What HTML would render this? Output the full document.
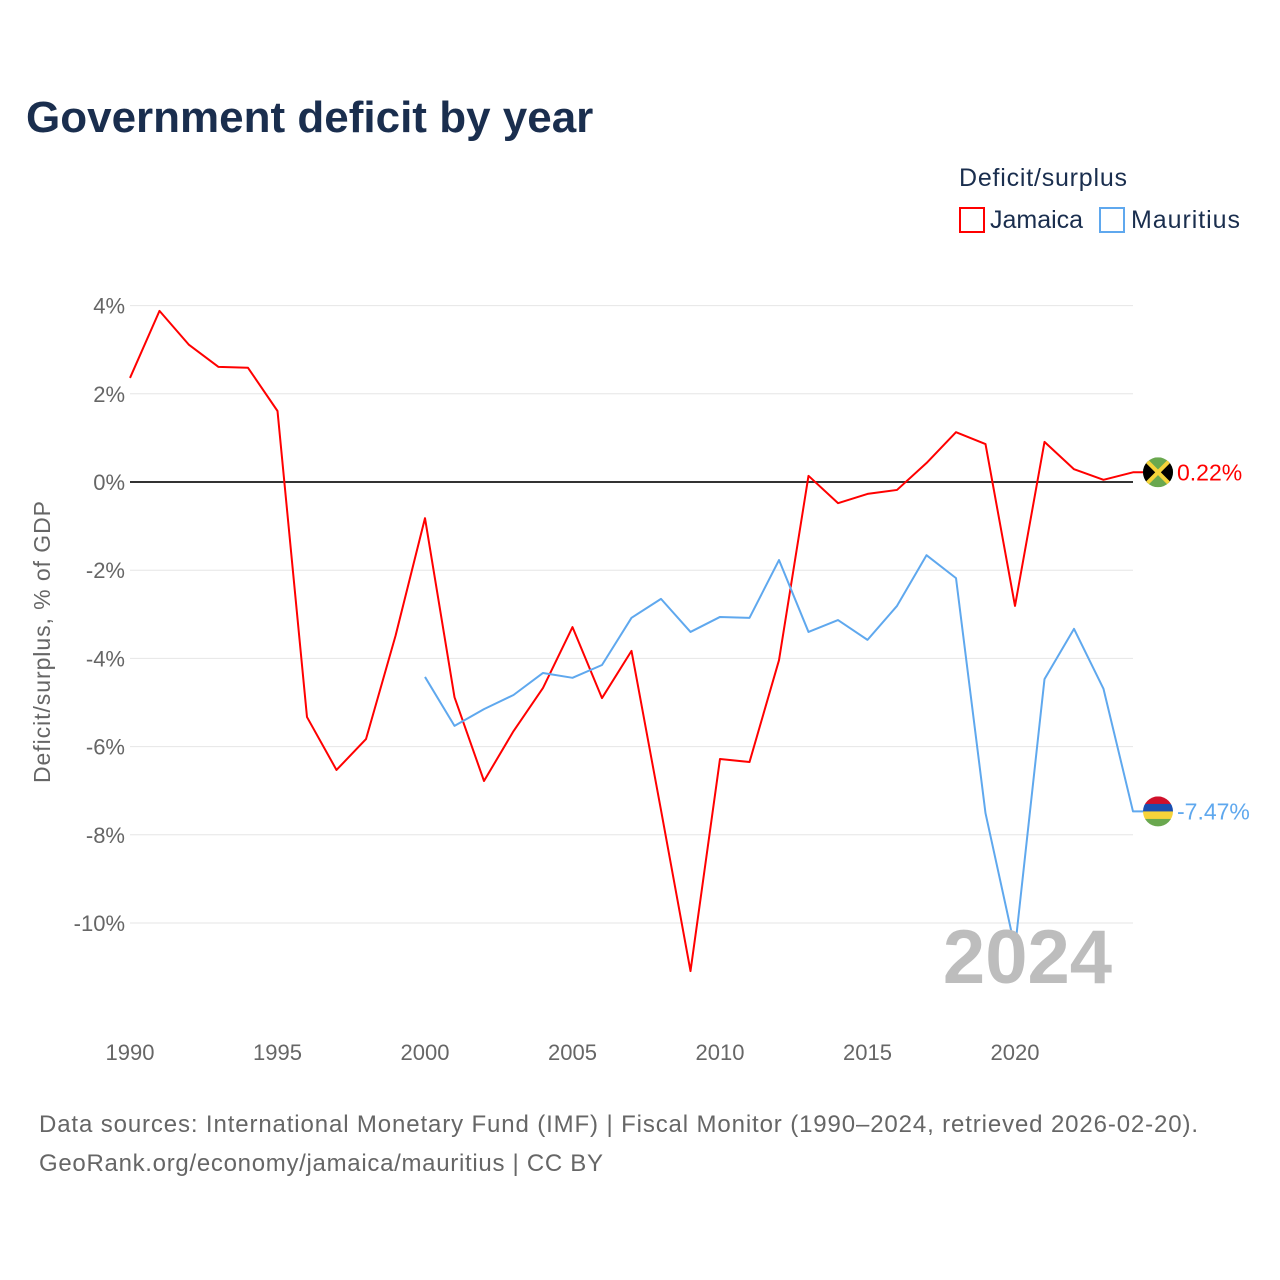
<!DOCTYPE html>
<html><head><meta charset="utf-8"><style>
body{margin:0;background:#fff;font-family:"Liberation Sans",sans-serif;}
#wrap{position:relative;width:1280px;height:1280px;overflow:hidden;}
</style></head><body><div id="wrap">
<svg id="chart" width="1280" height="1280" xmlns="http://www.w3.org/2000/svg">
<text x="26" y="132" font-size="44" font-weight="bold" fill="#1a2e4e">Government deficit by year</text>
<text x="959" y="186" font-size="25" fill="#1a2e4e" textLength="168">Deficit/surplus</text>
<rect x="960" y="208" width="24" height="24" fill="none" stroke="#ff0000" stroke-width="2"/>
<text x="990" y="228" font-size="25" fill="#1a2e4e">Jamaica</text>
<rect x="1100" y="208" width="24" height="24" fill="none" stroke="#5fa8ee" stroke-width="2"/>
<text x="1131" y="228" font-size="25" fill="#1a2e4e" textLength="109">Mauritius</text>
<g id="grid"></g><g id="series"></g>
<text x="1112" y="983" font-size="76" font-weight="bold" fill="#bdbdbd" text-anchor="end">2024</text>
<text transform="translate(50,642) rotate(-90)" font-size="23" fill="#666" text-anchor="middle" textLength="282">Deficit/surplus, % of GDP</text>
<text x="39" y="1132" font-size="24" fill="#666" textLength="1159">Data sources: International Monetary Fund (IMF) | Fiscal Monitor (1990–2024, retrieved 2026-02-20).</text>
<text x="39" y="1171" font-size="24" fill="#666" textLength="564">GeoRank.org/economy/jamaica/mauritius | CC BY</text>
</svg></div>
<script>
const years=[];for(let y=1990;y<=2024;y++)years.push(y);
const jamaica=[2.36,3.88,3.11,2.61,2.59,1.61,-5.33,-6.53,-5.83,-3.49,-0.82,-4.88,-6.78,-5.65,-4.67,-3.29,-4.90,-3.83,-7.44,-11.09,-6.28,-6.35,-4.04,0.14,-0.48,-0.27,-0.18,0.43,1.13,0.86,-2.81,0.91,0.29,0.05,0.22];
const mauritiusYears=[2000,2001,2002,2003,2004,2005,2006,2007,2008,2009,2010,2011,2012,2013,2014,2015,2016,2017,2018,2019,2020,2021,2022,2023,2024];
const mauritius=[-4.42,-5.53,-5.15,-4.83,-4.33,-4.44,-4.15,-3.08,-2.65,-3.40,-3.06,-3.08,-1.77,-3.40,-3.13,-3.58,-2.81,-1.66,-2.18,-7.51,-10.57,-4.47,-3.33,-4.69,-7.47];
const yTicks=[4,2,0,-2,-4,-6,-8,-10];
const xTicks=[1990,1995,2000,2005,2010,2015,2020];
const NS='http://www.w3.org/2000/svg';
const X=y=>130+(y-1990)*(1003/34);
const Y=v=>482-v*44.1;
const grid=document.getElementById('grid'),ser=document.getElementById('series');
function mk(tag,attrs,parent){const e=document.createElementNS(NS,tag);for(const k in attrs)e.setAttribute(k,attrs[k]);parent.appendChild(e);return e;}
yTicks.forEach(t=>{
 const l=mk('line',{x1:130,x2:1133,y1:Y(t),y2:Y(t),stroke:t===0?'#333':'#e6e6e6','stroke-width':t===0?2:1},grid);
 
 
 const tx=mk('text',{x:125,y:Y(t)+8,'font-size':22,fill:'#666','text-anchor':'end'},grid);
 tx.textContent=t+'%';
 
 
});
xTicks.forEach(t=>{
 const tx=mk('text',{x:X(t),y:1060,'font-size':22,fill:'#666','text-anchor':'middle'},grid);
 tx.textContent=t;
 
 
});
function line(xs,vs,color,name){
 let pts=xs.map((y,i)=>X(y)+','+Y(vs[i]));
 pts.push((X(xs[xs.length-1])+12)+','+Y(vs[vs.length-1]));
 const p=mk('polyline',{points:pts.join(' '),fill:'none',stroke:color,'stroke-width':2,'stroke-linejoin':'round'},ser);
 
 
}
line(years,jamaica,'#ff0000','jamaica-line');
line(mauritiusYears,mauritius,'#5fa8ee','mauritius-line');
const cx=1158;
const jy=Y(jamaica[jamaica.length-1]);
const jg=mk('g',{},ser);


const cj=mk('clipPath',{id:'cj'},jg);mk('circle',{cx:cx,cy:jy,r:15},cj);
const jgi=mk('g',{'clip-path':'url(#cj)'},jg);
mk('rect',{x:cx-15,y:jy-15,width:30,height:30,fill:'#6aa84f'},jgi);
mk('polygon',{points:`${cx-15},${jy-15} ${cx},${jy} ${cx-15},${jy+15}`,fill:'#000'},jgi);
mk('polygon',{points:`${cx+15},${jy-15} ${cx},${jy} ${cx+15},${jy+15}`,fill:'#000'},jgi);
mk('line',{x1:cx-15,y1:jy-15,x2:cx+15,y2:jy+15,stroke:'#f5d33a','stroke-width':4},jgi);
mk('line',{x1:cx+15,y1:jy-15,x2:cx-15,y2:jy+15,stroke:'#f5d33a','stroke-width':4},jgi);
const jl=mk('text',{x:1177,y:jy+8,'font-size':23,fill:'#ff0000'},ser);
jl.textContent=jamaica[jamaica.length-1].toFixed(2)+'%';


const my=Y(mauritius[mauritius.length-1]);
const mg=mk('g',{},ser);


const cm=mk('clipPath',{id:'cm'},mg);mk('circle',{cx:cx,cy:my,r:15},cm);
const mgi=mk('g',{'clip-path':'url(#cm)'},mg);
['#d0102a','#1a4fb0','#f6d33a','#6aa84f'].forEach((c,i)=>mk('rect',{x:cx-15,y:my-15+i*7.5,width:30,height:7.6,fill:c},mgi));
const ml=mk('text',{x:1177,y:my+8,'font-size':23,fill:'#5fa8ee'},ser);
ml.textContent=mauritius[mauritius.length-1].toFixed(2)+'%';


</script></body></html>
